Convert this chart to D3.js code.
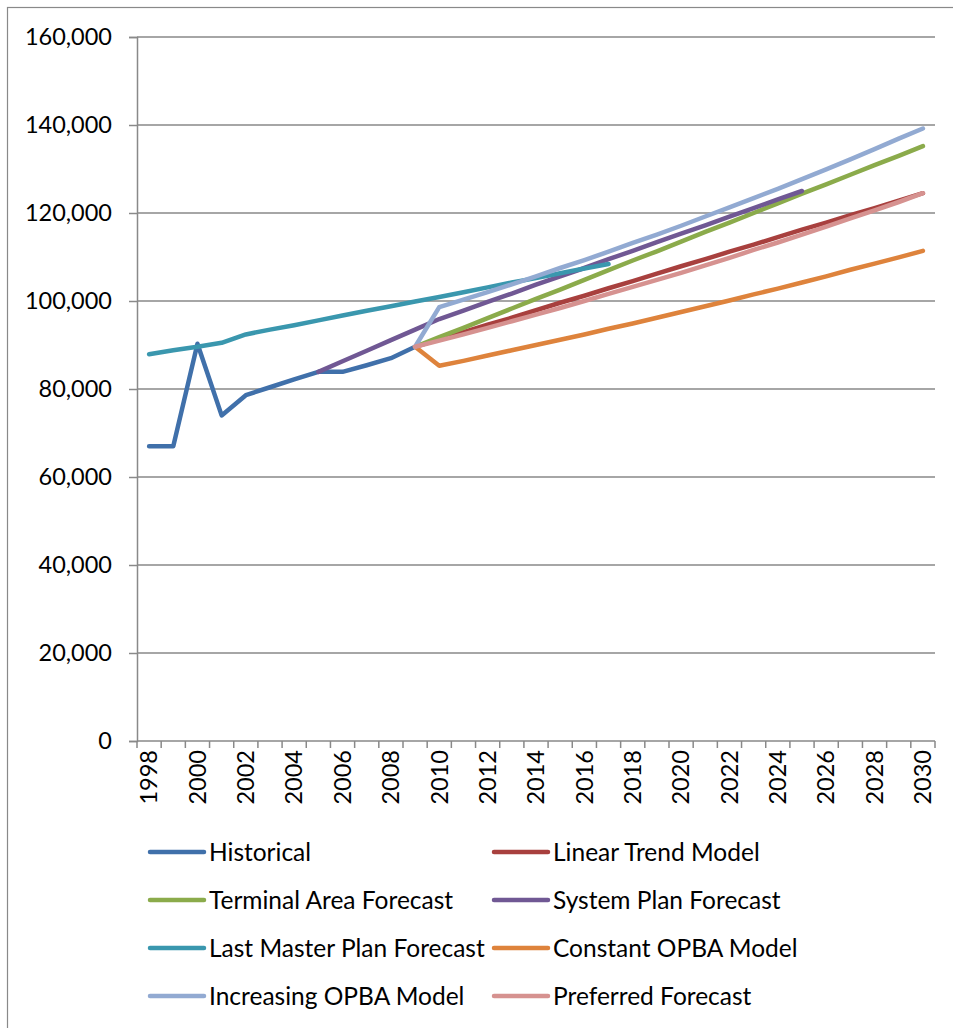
<!DOCTYPE html>
<html>
<head>
<meta charset="utf-8">
<script src="https://cdn.jsdelivr.net/npm/d3@7"></script>
<style>
  html, body { margin: 0; padding: 0; background: #ffffff; }
  svg text { font-family: Lato, "Open Sans", sans-serif; fill: #000000; }
</style>
</head>
<body>
<svg id="chart" width="953" height="1028"></svg>
<script>
// ---- data -------------------------------------------------------------
const years = [1998, 1999, 2000, 2001, 2002, 2003, 2004, 2005, 2006, 2007, 2008,
               2009, 2010, 2011, 2012, 2013, 2014, 2015, 2016, 2017, 2018, 2019,
               2020, 2021, 2022, 2023, 2024, 2025, 2026, 2027, 2028, 2029, 2030];

const yTickValues = [0, 20000, 40000, 60000, 80000, 100000, 120000, 140000, 160000];
const xLabelYears = [1998, 2000, 2002, 2004, 2006, 2008, 2010, 2012, 2014, 2016,
                     2018, 2020, 2022, 2024, 2026, 2028, 2030];

const blank = n => Array(n).fill(null);

const historical = [67000, 67000, 90300, 74000, 78600, 80400, 82200, 83900, 83900,
                    85400, 87000, 89600, ...blank(21)];

const linearTrend = [...blank(11), 89600, 91300, 92900, 94600, 96200, 97900, 99600,
                     101200, 102900, 104500, 106200, 107900, 109500, 111200, 112800,
                     114500, 116200, 117800, 119500, 121100, 122800, 124500];

const terminalArea = [...blank(11), 89600, 91800, 93900, 96100, 98300, 100500, 102600,
                      104800, 107000, 109200, 111300, 113500, 115700, 117800, 120000,
                      122200, 124400, 126500, 128700, 130900, 133000, 135200];

const systemPlan = [...blank(7), 83900, 86300, 88700, 91100, 93500, 95900, 97800,
                    99800, 101700, 103700, 105600, 107500, 109500, 111400, 113400,
                    115300, 117200, 119200, 121100, 123100, 125000, ...blank(5)];

const lastMasterPlan = [87900, 88800, 89600, 90500, 92400, 93500, 94500, 95600, 96700,
                        97800, 98800, 99900, 100900, 102000, 103100, 104200, 105200,
                        106300, 107400, 108400, ...blank(13)];

const constantOPBA = [...blank(11), 89600, 85300, 86400, 87600, 88800, 90000, 91200,
                      92400, 93700, 94900, 96200, 97500, 98800, 100100, 101500, 102800,
                      104200, 105600, 107100, 108500, 109900, 111400];

const increasingOPBA = [...blank(11), 89600, 98600, 100300, 102000, 103800, 105600,
                        107500, 109300, 111200, 113200, 115100, 117100, 119200, 121300,
                        123400, 125500, 127700, 129900, 132200, 134500, 136900, 139200];

const preferred = [...blank(11), 89600, 91000, 92400, 93900, 95400, 96900, 98400,
                   100000, 101600, 103200, 104800, 106400, 108100, 109800, 111600,
                   113300, 115100, 116900, 118800, 120600, 122500, 124500];

const seriesNames = ["Historical", "Linear Trend Model", "Terminal Area Forecast",
                     "System Plan Forecast", "Last Master Plan Forecast",
                     "Constant OPBA Model", "Increasing OPBA Model", "Preferred Forecast"];
const seriesValues = [historical, linearTrend, terminalArea, systemPlan, lastMasterPlan,
                      constantOPBA, increasingOPBA, preferred];
const seriesColors = ["#4070aa", "#a8403e", "#8bab4b", "#705894", "#3a97ae",
                      "#de833c", "#92aad2", "#d69290"];

// ---- layout -----------------------------------------------------------
const svg = d3.select("#chart");
const plot = { left: 137, right: 935, top: 37, bottom: 741 };
const gridColor = "#898989";
const axisFont = 23.5;
const legendFont = 24.5;

// outer chart frame
svg.append("rect")
  .attr("x", 7.5).attr("y", 7.5)
  .attr("width", 980).attr("height", 1060)
  .attr("fill", "none").attr("stroke", gridColor).attr("stroke-width", 1.2);

const x = d3.scalePoint().domain(years).range([plot.left, plot.right]).padding(0.5);
const xBand = d3.scaleBand().domain(years).range([plot.left, plot.right]);
const y = d3.scaleLinear().domain([0, 160000]).range([plot.bottom, plot.top]);

// horizontal gridlines
svg.append("g").selectAll("line")
  .data(yTickValues.filter(v => v > 0))
  .join("line")
  .attr("x1", plot.left).attr("x2", plot.right)
  .attr("y1", d => y(d)).attr("y2", d => y(d))
  .attr("stroke", gridColor).attr("stroke-width", 1.5);

// y axis
const yAxis = svg.append("g")
  .attr("transform", `translate(${plot.left},0)`)
  .call(d3.axisLeft(y).tickValues(yTickValues).tickSize(8).tickPadding(17)
        .tickFormat(d3.format(",")));
yAxis.select(".domain").attr("stroke", gridColor).attr("stroke-width", 1.5);
yAxis.selectAll(".tick line").attr("stroke", gridColor).attr("stroke-width", 1.5);
yAxis.selectAll(".tick text")
  .attr("font-size", axisFont).attr("font-family", "Lato, sans-serif").attr("fill", "#000");

// x axis line and boundary ticks
svg.append("line")
  .attr("x1", plot.left).attr("x2", plot.right)
  .attr("y1", plot.bottom).attr("y2", plot.bottom)
  .attr("stroke", gridColor).attr("stroke-width", 1.5);

const boundaries = years.map(yr => xBand(yr)).concat([plot.right]);
svg.append("g").selectAll("line")
  .data(boundaries)
  .join("line")
  .attr("x1", d => d).attr("x2", d => d)
  .attr("y1", plot.bottom).attr("y2", plot.bottom + 7)
  .attr("stroke", gridColor).attr("stroke-width", 1.5);

// rotated year labels
svg.append("g").selectAll("text")
  .data(xLabelYears)
  .join("text")
  .attr("transform", d => `translate(${x(d)},${plot.bottom + 9}) rotate(-90)`)
  .attr("text-anchor", "end")
  .attr("dy", "0.35em")
  .attr("font-size", axisFont)
  .text(d => d);

// series lines
const line = d3.line()
  .defined(d => d.v !== null)
  .x(d => x(d.year))
  .y(d => y(d.v));

svg.append("g").selectAll("path")
  .data(seriesValues.map((vals, i) => ({
    color: seriesColors[i],
    points: years.map((yr, j) => ({ year: yr, v: vals[j] }))
  })))
  .join("path")
  .attr("d", d => line(d.points))
  .attr("fill", "none")
  .attr("stroke", d => d.color)
  .attr("stroke-width", 4.5)
  .attr("stroke-linecap", "round")
  .attr("stroke-linejoin", "round");

// legend: two columns, four rows
const legendCols = [150, 494];
const legendRows = [852, 900, 948, 996];
const legend = svg.append("g").selectAll("g")
  .data(seriesNames.map((name, i) => ({ name, color: seriesColors[i], i })))
  .join("g")
  .attr("transform", d => `translate(${legendCols[d.i % 2]},${legendRows[Math.floor(d.i / 2)]})`);

legend.append("line")
  .attr("x1", 0).attr("x2", 54)
  .attr("stroke", d => d.color)
  .attr("stroke-width", 4.5)
  .attr("stroke-linecap", "round");

legend.append("text")
  .attr("x", 59)
  .attr("dy", "0.35em")
  .attr("font-size", legendFont)
  .text(d => d.name);
</script>
</body>
</html>
